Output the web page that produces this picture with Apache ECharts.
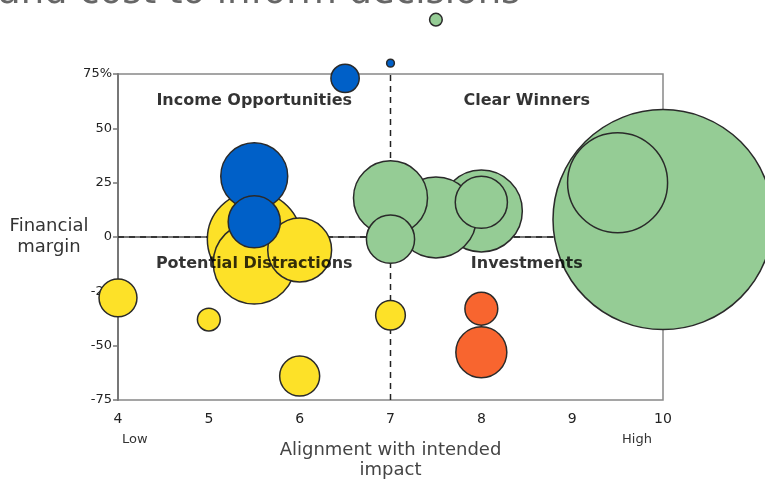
<!DOCTYPE html>
<html>
<head>
<meta charset="utf-8">
<script src="https://cdn.jsdelivr.net/npm/echarts@6/dist/echarts.min.js"></script>
<style>
  html, body { margin: 0; padding: 0; background: #fff; }
  #main { width: 765px; height: 482px; }
</style>
</head>
<body>
<div id="main"></div>
<script>
// bubbles: [alignment, margin, cost]
const yellowData = [[5.5, -1, 220], [5.5, -12, 168], [6, -6, 102], [4, -28, 36], [5, -38, 13], [6, -64, 40], [7, -36, 22]];
const greenData = [[10, 8, 1210], [9.5, 25, 250], [8, 12, 168], [7.5, 9, 164], [8, 16, 68], [7, 18, 137], [7, -1, 58], [7.5, 100, 4]];
const redData = [[8, -33, 27], [8, -53, 65]];
const blueData = [[5.5, 28, 112], [5.5, 7, 68], [6.5, 73, 20], [7, 80, 1.5]];

const quadrants = [[5.5, 62.5, 'Income Opportunities'], [8.5, 62.5, 'Clear Winners'], [5.5, -12.5, 'Potential Distractions'], [8.5, -12.5, 'Investments']];
const xTicks = [4, 5, 6, 7, 8, 9, 10];
const yTicks = [-75, -50, -25, 0, 25, 50, 75];
const dividerX = [[7, -75], [7, 75]];
const dividerY = [[4, 0], [10, 0]];

const font = 'DejaVu Sans';
const chart = echarts.init(document.getElementById('main'));

function bubble(name, data, color) {
  return {
    name: name,
    type: 'scatter',
    data: data,
    clip: false,
    z: 3,
    symbolSize: d => 2 * Math.sqrt(d[2] * 10),
    itemStyle: { color: color, borderColor: '#2a2a2a', borderWidth: 1.5, opacity: 1 },
    emphasis: { disabled: true }
  };
}

function divider(data) {
  return {
    type: 'line', data: data, z: 1, silent: true, symbol: 'none',
    lineStyle: { color: '#222', type: [6, 5], width: 1.5 }
  };
}

chart.setOption({
  animation: false,
  textStyle: { fontFamily: font },
  graphic: [
    { type: 'text', left: -2, top: -25, style: { text: 'and cost to inform decisions', font: '37px ' + font, fill: '#666' } },
    { type: 'text', left: 122, top: 433, style: { text: 'Low', font: '13px ' + font, fill: '#333' } },
    { type: 'text', left: 622, top: 433, style: { text: 'High', font: '13px ' + font, fill: '#333' } }
  ],
  grid: { left: 118, right: 102, top: 74, bottom: 82, show: true, borderColor: '#888', borderWidth: 1.5, outerBoundsMode: 'none', containLabel: false },
  xAxis: {
    type: 'value', min: xTicks[0], max: xTicks[xTicks.length - 1], interval: 1,
    name: 'Alignment with intended\nimpact', nameLocation: 'middle', nameGap: 40,
    nameTextStyle: { fontSize: 18, color: '#444', lineHeight: 20, fontFamily: font },
    splitLine: { show: false },
    axisLine: { lineStyle: { color: '#777', width: 2 } },
    axisTick: { show: true, length: 5, lineStyle: { color: '#777', width: 1.5 } },
    axisLabel: { color: '#222', fontSize: 14, margin: 12 }
  },
  yAxis: {
    type: 'value', min: yTicks[0], max: yTicks[yTicks.length - 1], interval: 25,
    name: 'Financial\nmargin', nameLocation: 'middle', nameRotate: 0, nameGap: 69, nameMoveOverlap: false,
    nameTextStyle: { fontSize: 18, color: '#333', lineHeight: 21, align: 'center', padding: [16, 0, 0, 0], fontFamily: font },
    splitLine: { show: false },
    axisLine: { show: true, lineStyle: { color: '#777', width: 2 } },
    axisTick: { show: true, length: 5, lineStyle: { color: '#777', width: 1.5 } },
    axisLabel: { color: '#222', fontSize: 13, margin: 6, formatter: v => v === 75 ? '75%' : String(v) }
  },
  series: [
    divider(dividerX),
    divider(dividerY),
    bubble('Potential', yellowData, '#FDE128'),
    bubble('Winners', greenData, '#95CC95'),
    bubble('Investments', redData, '#F8652F'),
    bubble('Income', blueData, '#0060C8'),
    {
      type: 'scatter', data: quadrants, z: 10, symbolSize: 0, silent: true,
      label: {
        show: true, position: 'inside', formatter: p => p.data[2],
        fontWeight: 900, fontSize: 16, color: '#000', fontFamily: font
      }
    }
  ]
});
</script>
</body>
</html>
